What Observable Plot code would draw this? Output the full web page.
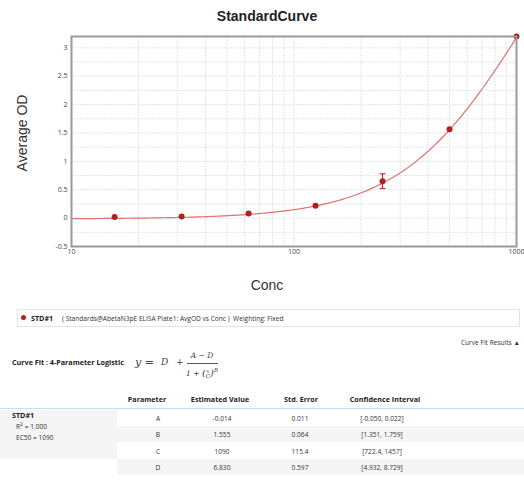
<!DOCTYPE html>
<html>
<head>
<meta charset="utf-8">
<script src="https://cdn.jsdelivr.net/npm/d3@7"></script>
<script src="https://cdn.jsdelivr.net/npm/@observablehq/plot@0.6"></script>
<style>
  html, body { margin: 0; padding: 0; background: #fff; }
  #root { position: relative; width: 524px; height: 481px; overflow: hidden; font-family: "Open Sans", "Noto Sans", sans-serif; color: #333; }
  .abs { position: absolute; white-space: nowrap; }
  #title { left: 0; width: 534px; top: 8px; text-align: center; font: bold 14px "Liberation Sans", Arial, sans-serif; color: #222; }
  #ylab { left: 22px; top: 133px; transform: translate(-50%, -50%) rotate(-90deg); font: 14px "Liberation Sans", Arial, sans-serif; color: #333; }
  #xlab { left: 267px; top: 285px; transform: translate(-50%, -50%); font: 14px "Liberation Sans", Arial, sans-serif; color: #333; }
  .small { font-size: 6.6px; color: #333; }
  .bold { font-weight: bold; font-size: 7.2px; color: #222; }
  .c { transform: translate(-50%, -50%); }
  .m { transform: translateY(-50%); }
  .serif { font-family: "DejaVu Serif", "Liberation Serif", serif; font-style: italic; color: #444; }
</style>
</head>
<body>
<div id="root">
  <div id="chart" class="abs" style="left:0;top:0"></div>
  <div id="title" class="abs">StandardCurve</div>
  <div id="ylab" class="abs">Average OD</div>
  <div id="xlab" class="abs">Conc</div>
  <div id="bottom"></div>
</div>
<script>
// ---- data ----
const seriesName = "STD#1";
const conc = [15.625, 31.25, 62.5, 125, 250, 500, 1000];
const avgOD = [0.018, 0.03, 0.083, 0.22, 0.65, 1.565, 3.2];
const odErr = [0, 0, 0, 0, 0.13, 0, 0];

const paramNames = ["A", "B", "C", "D"];
const paramEstimates = [-0.014, 1.555, 1090, 6.830];
const estimateLabels = ["-0.014", "1.555", "1090", "6.830"];
const stdErrors = ["0.011", "0.064", "115.4", "0.597"];
const confIntervals = ["[-0.050, 0.022]", "[1.351, 1.759]", "[722.4, 1457]", "[4.932, 8.729]"];

const xTicks = [10, 100, 1000];
const xMinorGrid = [20, 30, 40, 50, 60, 70, 80, 90, 100, 200, 300, 400, 500, 600, 700, 800, 900];
const yTicks = [-0.5, 0, 0.5, 1, 1.5, 2, 2.5, 3];
const yGrid = [-0.25, 0, 0.25, 0.5, 0.75, 1, 1.25, 1.5, 1.75, 2, 2.25, 2.5, 2.75, 3];

// ---- build tables ----
const points = conc.map((c, i) => ({conc: c, od: avgOD[i], lo: avgOD[i] - odErr[i], hi: avgOD[i] + odErr[i], err: odErr[i]}));
const errPoints = points.filter(d => d.err > 0);
const capPoints = errPoints.flatMap(d => [{conc: d.conc, od: d.lo}, {conc: d.conc, od: d.hi}]);

// fitted 4PL curve from the reported parameters
const [A, B, C, D] = paramEstimates;
const fit = x => D + (A - D) / (1 + Math.pow(x / C, B));
const curve = d3.range(0, 201).map(i => { const x = Math.pow(10, 1 + 2 * i / 200); return {conc: x, od: fit(x)}; });

const capSymbol = { draw(ctx) { ctx.moveTo(-3, 0); ctx.lineTo(3, 0); } };

const red = "#b21f1f";
const chart = Plot.plot({
  width: 524,
  height: 300,
  marginLeft: 71,
  marginRight: 8,
  marginTop: 36,
  marginBottom: 54,
  style: { fontFamily: "'Open Sans', 'Noto Sans', sans-serif", color: "#444", background: "transparent" },
  x: { type: "log", domain: [10, 1000] },
  y: { domain: [-0.5, 3.2] },
  marks: [
    Plot.gridX(xMinorGrid, { stroke: "#e4e4e4", strokeOpacity: 1, strokeDasharray: "2,1" }),
    Plot.gridY(yGrid, { stroke: "#e4e4e4", strokeOpacity: 1, strokeDasharray: "2,1" }),
    Plot.line(curve, { x: "conc", y: "od", stroke: "#e07272", strokeWidth: 1.2 }),
    Plot.ruleX(errPoints, { x: "conc", y1: "lo", y2: "hi", stroke: red, strokeWidth: 1 }),
    Plot.dot(capPoints, { x: "conc", y: "od", symbol: capSymbol, stroke: red, strokeWidth: 1, r: 3 }),
    Plot.dot(points, { x: "conc", y: "od", r: 3, fill: red }),
    Plot.frame({ stroke: "#9a9a9a", strokeWidth: 2 }),
    Plot.axisY(yTicks, { tickSize: 0, tickPadding: 4, fontSize: 7, label: null, tickFormat: d => String(d), fill: "#444" }),
    Plot.axisX(xTicks, { tickSize: 0, tickPadding: 3, fontSize: 7, label: null, tickFormat: d => String(d), fill: "#444" })
  ]
});
document.getElementById("chart").appendChild(chart);

// ---- lower panel (legend + curve fit results) ----
const bottom = document.getElementById("bottom");
function add(html, style, cls) {
  const el = document.createElement("div");
  el.className = "abs " + (cls || "");
  el.setAttribute("style", style);
  el.innerHTML = html;
  bottom.appendChild(el);
  return el;
}
// legend box
add("", "left:17px;top:309px;width:503px;height:18px;border:1px solid #e4e4e4;box-sizing:border-box;");
add("", `left:21px;top:315px;width:5px;height:5px;border-radius:50%;background:${red};`);
add(seriesName, "left:31px;top:318px;", "small bold m");
add("( Standards@AbetaN3pE ELISA Plate1: AvgOD vs Conc )&nbsp; Weighting: Fixed", "left:62px;top:318px;", "small m");
add("Curve Fit Results &#9650;", "right:4px;top:342px;", "small m");
add("Curve Fit : 4-Parameter Logistic", "left:12px;top:362px;", "small bold m");
// formula
add("y =", "left:135px;top:362px;font-size:11px;", "serif m");
add("D", "left:161px;top:362px;font-size:9px;", "serif m");
add("+", "left:176px;top:362px;font-size:9px;font-style:normal;", "serif m");
add("A &minus; D", "left:202px;top:355px;font-size:7.5px;", "serif c");
add("", "left:187px;top:363px;width:31px;height:0;border-top:0.8px solid #555;");
add("1 + <span style='font-size:10px'>(</span><span style='display:inline-block;vertical-align:middle;text-align:center;font-size:5.5px;line-height:5.5px'>x<br>C</span><span style='font-size:10px'>)</span><sup style='font-size:5.5px'>B</sup>", "left:202px;top:373px;font-size:7.5px;", "serif c");

// table
const colX = [158, 222, 300, 382];
const headX = [147, 220, 301, 385];
const heads = ["Parameter", "Estimated Value", "Std. Error", "Confidence Interval"];
heads.forEach((h, i) => add(h, `left:${headX[i]}px;top:399px;`, "small bold c"));
add("", "left:0;top:408px;width:524px;height:0;border-top:1.5px solid #bfe0ef;");
add("", "left:0;top:409.5px;width:117px;height:49.5px;background:#f5f5f5;");
const rowTop = 409.5, rowH = 16.4;
paramNames.forEach((p, r) => {
  if (r % 2 === 1) add("", `left:117px;top:${rowTop + r * rowH}px;width:407px;height:${rowH}px;background:#f5f5f5;`);
  const cy = rowTop + r * rowH + rowH / 2;
  const cells = [p, estimateLabels[r], stdErrors[r], confIntervals[r]];
  cells.forEach((t, i) => add(t, `left:${colX[i]}px;top:${cy}px;`, "small c"));
});
add(seriesName, "left:12px;top:415px;", "small bold m");
add("R<sup style='font-size:5px'>2</sup> = 1.000", "left:16px;top:426px;", "small m");
add("EC50 = 1090", "left:16px;top:437px;", "small m");
</script>
</body>
</html>
